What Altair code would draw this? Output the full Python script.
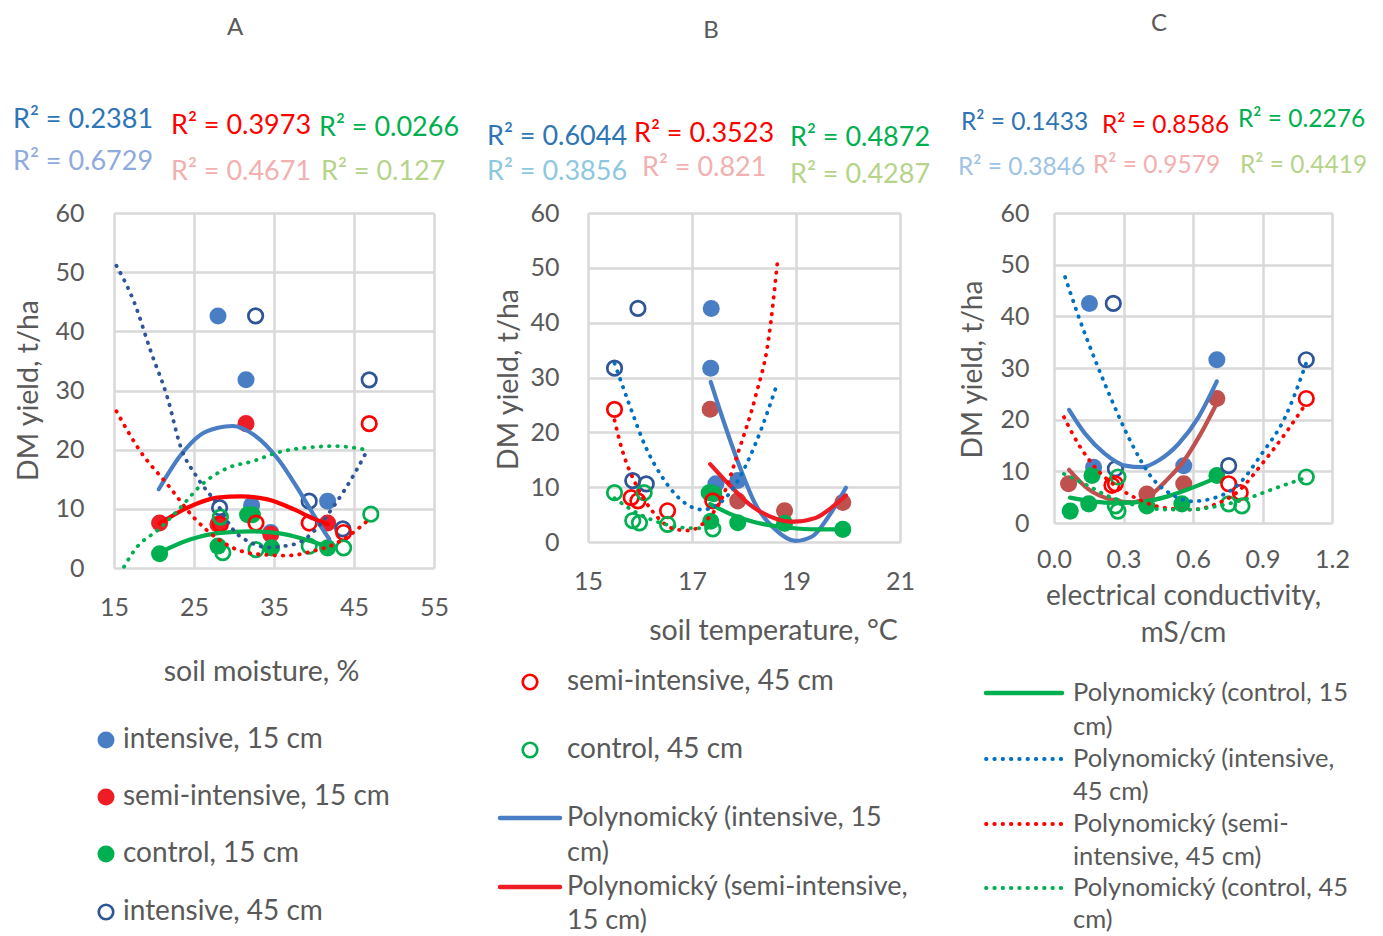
import altair as alt
import pandas as pd

FONT = "Lato"
TXT = "#595959"
GRID = "#D9D9D9"

C_INT = "#4A7EC4"     # intensive 15 cm
C_INT_D = "#2F5597"   # intensive 45 cm (open markers)
C_INT_B = "#0070C0"   # dotted fit intensive 45 cm
C_RED = "#EE1C25"
C_RED2 = "#FF0000"
C_BRICK = "#C0504D"
C_GRN = "#00B050"

Y_TICKS = [0, 10, 20, 30, 40, 50, 60]

# ---------------- Panel A : soil moisture, % ----------------
A_int15_x = [28.0, 31.5, 32.2, 41.7, 34.6]
A_int15_y = [42.6, 31.8, 10.6, 11.3, 6.0]
A_semi15_x = [31.5, 20.7, 41.7, 34.6, 28.0]
A_semi15_y = [24.4, 7.6, 7.6, 5.7, 7.4]
A_ctrl15_x = [20.7, 31.7, 32.3, 28.0, 34.7, 41.7]
A_ctrl15_y = [2.4, 9.0, 9.0, 3.7, 3.4, 3.4]
A_int45_x = [32.7, 46.9, 39.4, 28.2, 43.6]
A_int45_y = [42.6, 31.8, 11.3, 10.2, 6.6]
A_semi45_x = [46.9, 39.4, 32.75, 43.7, 28.3]
A_semi45_y = [24.4, 7.6, 7.6, 6.0, 7.4]
A_ctrl45_x = [47.1, 28.3, 28.6, 32.75, 39.4, 43.7]
A_ctrl45_y = [9.1, 8.6, 2.6, 3.1, 3.7, 3.4]

A_fit_int15_x = [20.6, 23.3, 25.8, 28.0, 29.8, 32.5, 35.4, 38.3, 40.4, 41.9]
A_fit_int15_y = [13.3, 19.0, 22.5, 23.7, 24.0, 22.5, 18.6, 12.7, 8.0, 4.9]
A_fit_semi15_x = [20.7, 24.2, 27.9, 30.9, 34.2, 37.5, 40.0, 41.7]
A_fit_semi15_y = [7.5, 10.2, 11.9, 12.1, 11.6, 9.9, 8.3, 7.4]
A_fit_ctrl15_x = [20.7, 24.5, 28.0, 32.0, 35.5, 38.5, 41.7]
A_fit_ctrl15_y = [2.6, 4.8, 5.9, 6.2, 5.9, 5.0, 3.6]
A_fit_int45_x = [15.3, 17.5, 19.6, 21.7, 23.3, 25.4, 27.9, 30.0, 32.1, 34.2, 37.5, 40.8, 42.5, 45.0, 46.7]
A_fit_int45_y = [51.1, 45.0, 36.6, 28.7, 20.6, 15.3, 10.8, 6.3, 4.3, 3.5, 4.0, 7.4, 10.5, 15.8, 20.0]
A_fit_semi45_x = [15.3, 18.3, 21.7, 25.0, 28.3, 32.5, 36.7, 40.0, 42.5, 44.5, 46.7]
A_fit_semi45_y = [26.5, 19.7, 14.1, 8.5, 4.6, 2.4, 2.1, 2.9, 4.0, 5.6, 8.0]
A_fit_ctrl45_x = [16.25, 17.5, 20.8, 23.3, 25.8, 29.2, 32.5, 35.4, 39.6, 42.5, 46.5]
A_fit_ctrl45_y = [0.2, 2.9, 6.8, 10.2, 13.9, 16.9, 18.1, 19.5, 20.4, 20.6, 20.0]

# ---------------- Panel B : soil temperature, °C ----------------
B_int15_x = [17.37, 17.36, 17.88, 17.46]
B_int15_y = [42.6, 31.7, 11.2, 10.6]
B_semi15_x = [17.35, 17.88, 18.78, 19.9]
B_semi15_y = [24.2, 7.5, 5.7, 7.2]
B_ctrl15_x = [17.33, 17.42, 17.36, 17.88, 18.78, 19.9]
B_ctrl15_y = [9.0, 8.8, 3.8, 3.5, 3.4, 2.3]
B_int45_x = [15.96, 15.51, 15.86, 16.12]
B_int45_y = [42.6, 31.7, 11.2, 10.6]
B_semi45_x = [15.51, 15.83, 15.96, 16.53, 17.40]
B_semi45_y = [24.2, 8.1, 7.5, 5.7, 7.5]
B_ctrl45_x = [15.51, 16.08, 15.86, 15.99, 16.53, 17.40]
B_ctrl45_y = [9.0, 9.0, 3.9, 3.5, 3.2, 2.4]

B_fit_int15_x = [17.36, 17.58, 17.9, 18.22, 18.6, 18.99, 19.31, 19.63, 19.96]
B_fit_int15_y = [29.2, 22.8, 14.2, 6.9, 2.3, 0.2, 1.0, 4.7, 9.9]
B_fit_semi15_x = [17.35, 17.71, 18.1, 18.6, 18.95, 19.38, 19.7, 19.96]
B_fit_semi15_y = [14.2, 10.5, 6.9, 4.3, 3.7, 4.4, 6.4, 8.5]
B_fit_ctrl15_x = [17.35, 17.84, 18.35, 18.87, 19.38, 19.89]
B_fit_ctrl15_y = [6.9, 4.7, 3.3, 2.6, 2.3, 2.3]
B_fit_int45_x = [15.51, 15.79, 16.11, 16.43, 16.81, 17.2, 17.65, 17.84, 18.22, 18.64]
B_fit_int45_y = [32.6, 25.2, 17.3, 11.8, 7.5, 5.9, 8.1, 10.5, 17.9, 28.9]
B_fit_semi45_x = [15.51, 15.66, 15.92, 16.24, 16.69, 16.94, 17.26, 17.58, 17.9, 18.22, 18.48, 18.64]
B_fit_semi45_y = [22.2, 16.7, 10.5, 5.6, 2.3, 2.1, 3.8, 8.1, 16.7, 26.5, 37.5, 50.8]
B_fit_ctrl45_x = [15.51, 15.85, 16.24, 16.69, 17.05, 17.40]
B_fit_ctrl45_y = [8.0, 5.8, 4.0, 2.8, 2.5, 2.6]

# ---------------- Panel C : electrical conductivity, mS/cm ----------------
C_int15_x = [0.153, 0.703, 0.56, 0.171]
C_int15_y = [42.5, 31.6, 11.1, 10.8]
C_semi15_x = [0.703, 0.063, 0.401, 0.56]
C_semi15_y = [24.1, 7.6, 5.6, 7.6]
C_ctrl15_x = [0.07, 0.15, 0.164, 0.401, 0.552, 0.703]
C_ctrl15_y = [2.3, 3.7, 9.2, 3.3, 3.7, 9.2]
C_int45_x = [0.256, 1.089, 0.754, 0.265]
C_int45_y = [42.5, 31.6, 11.1, 10.5]
C_semi45_x = [1.089, 0.754, 0.265, 0.804, 0.25]
C_semi45_y = [24.1, 7.6, 7.6, 5.9, 7.3]
C_ctrl45_x = [1.089, 0.276, 0.265, 0.276, 0.754, 0.811]
C_ctrl45_y = [8.9, 8.9, 3.3, 2.3, 3.7, 3.3]

C_fit_int15_x = [0.065, 0.134, 0.22, 0.307, 0.379, 0.451, 0.537, 0.624, 0.703]
C_fit_int15_y = [21.9, 17.3, 13.4, 11.1, 10.8, 12.1, 15.3, 20.5, 27.4]
C_fit_semi15_x = [0.065, 0.15, 0.25, 0.337, 0.42, 0.48, 0.56, 0.63, 0.703]
C_fit_semi15_y = [10.3, 6.5, 4.5, 4.0, 5.5, 8.0, 12.0, 17.0, 23.2]
C_fit_ctrl15_x = [0.069, 0.163, 0.278, 0.393, 0.494, 0.595, 0.703]
C_fit_ctrl15_y = [4.9, 4.2, 3.9, 4.2, 5.2, 6.8, 8.8]
C_fit_int45_x = [0.048, 0.105, 0.177, 0.249, 0.336, 0.422, 0.509, 0.595, 0.696, 0.797, 0.897, 0.998, 1.089]
C_fit_int45_y = [47.6, 40.1, 31.6, 23.8, 15.3, 8.8, 5.5, 4.2, 4.9, 7.5, 13.4, 20.5, 31.0]
C_fit_semi45_x = [0.043, 0.105, 0.177, 0.278, 0.364, 0.48, 0.595, 0.696, 0.797, 0.897, 0.998, 1.089]
C_fit_semi45_y = [20.5, 15.3, 10.8, 6.8, 4.6, 2.9, 2.6, 3.6, 6.2, 11.4, 17.3, 23.2]
C_fit_ctrl45_x = [0.043, 0.134, 0.249, 0.364, 0.48, 0.595, 0.71, 0.825, 0.941, 1.089]
C_fit_ctrl45_y = [9.5, 7.5, 4.9, 3.3, 2.6, 2.6, 3.3, 4.6, 6.5, 8.8]

# ---------------- texts ----------------
PANEL_TITLES = ["A", "B", "C"]
A_r2 = ["R² = 0.2381", "R² = 0.3973", "R² = 0.0266", "R² = 0.6729", "R² = 0.4671", "R² = 0.127"]
B_r2 = ["R² = 0.6044", "R² = 0.3523", "R² = 0.4872", "R² = 0.3856", "R² = 0.821", "R² = 0.4287"]
C_r2 = ["R² = 0.1433", "R² = 0.8586", "R² = 0.2276", "R² = 0.3846", "R² = 0.9579", "R² = 0.4419"]
LEG_POINTS = ["intensive, 15 cm", "semi-intensive, 15 cm", "control, 15 cm", "intensive, 45 cm",
              "semi-intensive, 45 cm", "control, 45 cm"]
LEG_FITS = [["Polynomický (intensive, 15", "cm)"], ["Polynomický (semi-intensive,", "15 cm)"],
            ["Polynomický (control, 15", "cm)"], ["Polynomický (intensive,", "45 cm)"],
            ["Polynomický (semi-", "intensive, 45 cm)"], ["Polynomický (control, 45", "cm)"]]

# ---------------- layout ----------------
W = {"A": 320, "B": 312, "C": 278}
H = {"A": 355, "B": 329, "C": 310}
SP = 154
TOP = 212
OX = {"A": 113}
OX["B"] = OX["A"] + W["A"] + SP
OX["C"] = OX["B"] + W["B"] + SP

R2_DARK = ["#2E75B6", "#FF0000", "#00B050"]
R2_LIGHT = {"A": ["#8FAADC", "#F2B0B0", "#B5D48A"],
            "B": ["#8DC8E0", "#F2B0B0", "#B5D48A"],
            "C": ["#9DC3E6", "#F2B0B0", "#B5D48A"]}

PT_FILLED = 290
PT_OPEN = 210
PT_SW = 2.7
DOT = [0.5, 7.8]


def ann(p, texts, px, py, colors, size, align="left", baseline="middle"):
    df = pd.DataFrame({"t": texts, "px": [v - OX[p] for v in px],
                       "py": [v - TOP for v in py], "c": colors})
    return alt.Chart(df).mark_text(font=FONT, fontSize=size, align=align, baseline=baseline).encode(
        x=alt.X("px:Q", scale=None, axis=None),
        y=alt.Y("py:Q", scale=None, axis=None),
        text=alt.Text("t:N"),
        color=alt.Color("c:N", scale=None, legend=None))


def sym(p, px, py, color, filled, size, sw=PT_SW, opacity=1):
    df = pd.DataFrame({"px": [v - OX[p] for v in px], "py": [v - TOP for v in py]})
    return alt.Chart(df).mark_point(shape="circle", filled=filled, size=size, strokeWidth=sw,
                                    color=color, opacity=opacity).encode(
        x=alt.X("px:Q", scale=None, axis=None), y=alt.Y("py:Q", scale=None, axis=None))


def seg(p, x1, x2, y, color, dotted, width):
    df = pd.DataFrame({"px": [x1 - OX[p]], "px2": [x2 - OX[p]], "py": [y - TOP]})
    kw = dict(color=color, strokeWidth=width, strokeCap="round")
    if dotted:
        kw["strokeDash"] = DOT
    return alt.Chart(df).mark_rule(**kw).encode(
        x=alt.X("px:Q", scale=None, axis=None), x2="px2:Q",
        y=alt.Y("py:Q", scale=None, axis=None))


def panel(p, xdom, xticks, xfmt, lab_size, xpad, ypad, xtitle, xt_pos, xt_base, yt_pos,
          title_size, pts, fits, extra):
    xs = alt.Scale(domain=xdom, nice=False, zero=False)
    ys = alt.Scale(domain=[0, 60], nice=False)
    common = dict(grid=True, gridColor=GRID, gridWidth=2.5, domain=False, ticks=False,
                  labelColor=TXT, labelFont=FONT, labelFontSize=lab_size, labelFlush=False,
                  labelOverlap=False, titleColor=TXT, titleFont=FONT, titleFontSize=title_size,
                  titleFontWeight="normal")
    xaxis = alt.Axis(values=xticks, format=xfmt, labelPadding=xpad, title=xtitle,
                     titleX=xt_pos[0] - OX[p], titleY=xt_pos[1] - (TOP + H[p]), titleAngle=0,
                     titleAlign="center", titleBaseline=xt_base, titleLineHeight=37, **common)
    yaxis = alt.Axis(values=Y_TICKS, labelPadding=ypad, title="DM yield, t/ha",
                     titleX=yt_pos[0] - OX[p], titleY=yt_pos[1] - TOP, titleAngle=270,
                     titleAlign="center", titleBaseline="middle", **common)
    layers = []
    for xv, yv, filled, color in pts:
        df = pd.DataFrame({"x": xv, "y": yv})
        mk = alt.Chart(df).mark_point(shape="circle", filled=filled, opacity=1, color=color,
                                      size=PT_FILLED if filled else PT_OPEN, strokeWidth=PT_SW)
        layers.append(mk.encode(x=alt.X("x:Q", scale=xs, axis=xaxis),
                                y=alt.Y("y:Q", scale=ys, axis=yaxis)))
    for xv, yv, color, dotted in fits:
        df = pd.DataFrame({"x": xv, "y": yv})
        kw = dict(color=color, interpolate="monotone", strokeCap="round")
        if dotted:
            kw.update(strokeDash=DOT, strokeWidth=3.8)
        else:
            kw.update(strokeWidth=4.2)
        layers.append(alt.Chart(df).mark_line(**kw).encode(
            x=alt.X("x:Q", scale=xs, axis=xaxis), y=alt.Y("y:Q", scale=ys, axis=yaxis)))
    layers += extra
    return alt.layer(*layers).properties(width=W[p], height=H[p])


# ---- Panel A ----
extraA = [
    sym("A", [OX["A"] - 105], [TOP - 204], "#ffffff", True, 1, opacity=0),  # page anchor
    ann("A", [PANEL_TITLES[0]], [234], [27], [TXT], 24, align="center"),
    ann("A", A_r2, [12, 170, 318, 12, 170, 320], [119, 125, 127, 161, 171, 171],
        R2_DARK + R2_LIGHT["A"], 27),
    sym("A", [105], [739], C_INT, True, PT_FILLED),
    sym("A", [105], [796], C_RED, True, PT_FILLED),
    sym("A", [105], [853], C_GRN, True, PT_FILLED),
    sym("A", [105], [911], C_INT_D, False, PT_OPEN),
    ann("A", LEG_POINTS[:4], [122] * 4, [739, 796, 853, 911], [TXT] * 4, 28),
]
chartA = panel(
    "A", [15, 55], [15, 25, 35, 45, 55], "d", 25, 27, 30, "soil moisture, %", (260, 670), "middle",
    (27, 389), 28.5,
    [(A_int15_x, A_int15_y, True, C_INT), (A_semi15_x, A_semi15_y, True, C_RED),
     (A_ctrl15_x, A_ctrl15_y, True, C_GRN), (A_int45_x, A_int45_y, False, C_INT_D),
     (A_semi45_x, A_semi45_y, False, C_RED2), (A_ctrl45_x, A_ctrl45_y, False, C_GRN)],
    [(A_fit_int15_x, A_fit_int15_y, C_INT, False), (A_fit_semi15_x, A_fit_semi15_y, C_RED2, False),
     (A_fit_ctrl15_x, A_fit_ctrl15_y, C_GRN, False), (A_fit_int45_x, A_fit_int45_y, C_INT_D, True),
     (A_fit_semi45_x, A_fit_semi45_y, C_RED2, True), (A_fit_ctrl45_x, A_fit_ctrl45_y, C_GRN, True)],
    extraA)

# ---- Panel B ----
extraB = [
    ann("B", [PANEL_TITLES[1]], [710], [30], [TXT], 24, align="center"),
    ann("B", B_r2, [486, 633, 789, 486, 641, 789], [136, 133, 137, 171, 167, 174],
        R2_DARK + R2_LIGHT["B"], 27),
    sym("B", [529], [681], C_RED2, False, PT_OPEN),
    sym("B", [529], [749], C_GRN, False, PT_OPEN),
    ann("B", LEG_POINTS[4:], [566, 566], [681, 749], [TXT, TXT], 28),
    seg("B", 499, 559, 817, C_INT, False, 4.5),
    seg("B", 499, 559, 886, C_RED, False, 4.5),
    ann("B", LEG_FITS[0] + LEG_FITS[1], [566] * 4, [817, 852, 886, 920], [TXT] * 4, 27),
]
chartB = panel(
    "B", [15, 21], [15, 17, 19, 21], "d", 25, 27, 29, "soil temperature, °C", (772, 629), "middle",
    (507, 378), 28.5,
    [(B_int15_x, B_int15_y, True, C_INT), (B_semi15_x, B_semi15_y, True, C_BRICK),
     (B_ctrl15_x, B_ctrl15_y, True, C_GRN), (B_int45_x, B_int45_y, False, C_INT_D),
     (B_semi45_x, B_semi45_y, False, C_RED2), (B_ctrl45_x, B_ctrl45_y, False, C_GRN)],
    [(B_fit_int15_x, B_fit_int15_y, C_INT, False), (B_fit_semi15_x, B_fit_semi15_y, C_RED, False),
     (B_fit_ctrl15_x, B_fit_ctrl15_y, C_GRN, False), (B_fit_int45_x, B_fit_int45_y, C_INT_B, True),
     (B_fit_semi45_x, B_fit_semi45_y, C_RED2, True), (B_fit_ctrl45_x, B_fit_ctrl45_y, C_GRN, True)],
    extraB)

# ---- Panel C ----
extraC = [
    ann("C", [PANEL_TITLES[2]], [1158], [23], [TXT], 24, align="center"),
    ann("C", C_r2, [960, 1101, 1237, 957, 1092, 1239], [122, 125, 119, 167, 165, 165],
        R2_DARK + R2_LIGHT["C"], 24.5),
    seg("C", 985, 1061, 692, C_GRN, False, 4.5),
    seg("C", 985, 1061, 758, C_INT_B, True, 3.8),
    seg("C", 985, 1061, 823, C_RED2, True, 3.8),
    seg("C", 985, 1061, 887, C_GRN, True, 3.8),
    ann("C", sum(LEG_FITS[2:], []), [1072] * 8, [692, 726, 758, 791, 823, 856, 887, 919], [TXT] * 8, 25.5),
]
chartC = panel(
    "C", [0, 1.2], [0, 0.3, 0.6, 0.9, 1.2], ".1f", 25, 24, 25,
    ["electrical conductivity,", "mS/cm"], (1182, 581), "top", (972, 368), 28,
    [(C_int15_x, C_int15_y, True, C_INT), (C_semi15_x, C_semi15_y, True, C_BRICK),
     (C_ctrl15_x, C_ctrl15_y, True, C_GRN), (C_int45_x, C_int45_y, False, C_INT_D),
     (C_semi45_x, C_semi45_y, False, C_RED2), (C_ctrl45_x, C_ctrl45_y, False, C_GRN)],
    [(C_fit_int15_x, C_fit_int15_y, C_INT, False), (C_fit_semi15_x, C_fit_semi15_y, C_BRICK, False),
     (C_fit_ctrl15_x, C_fit_ctrl15_y, C_GRN, False), (C_fit_int45_x, C_fit_int45_y, C_INT_B, True),
     (C_fit_semi45_x, C_fit_semi45_y, C_RED2, True), (C_fit_ctrl45_x, C_fit_ctrl45_y, C_GRN, True)],
    extraC)

chart = alt.hconcat(chartA, chartB, chartC, spacing=SP, bounds="flush", padding=0,
                    background="white").configure_view(stroke=None)

chart.save("out.html", embed_options={"renderer": "svg", "actions": False})
